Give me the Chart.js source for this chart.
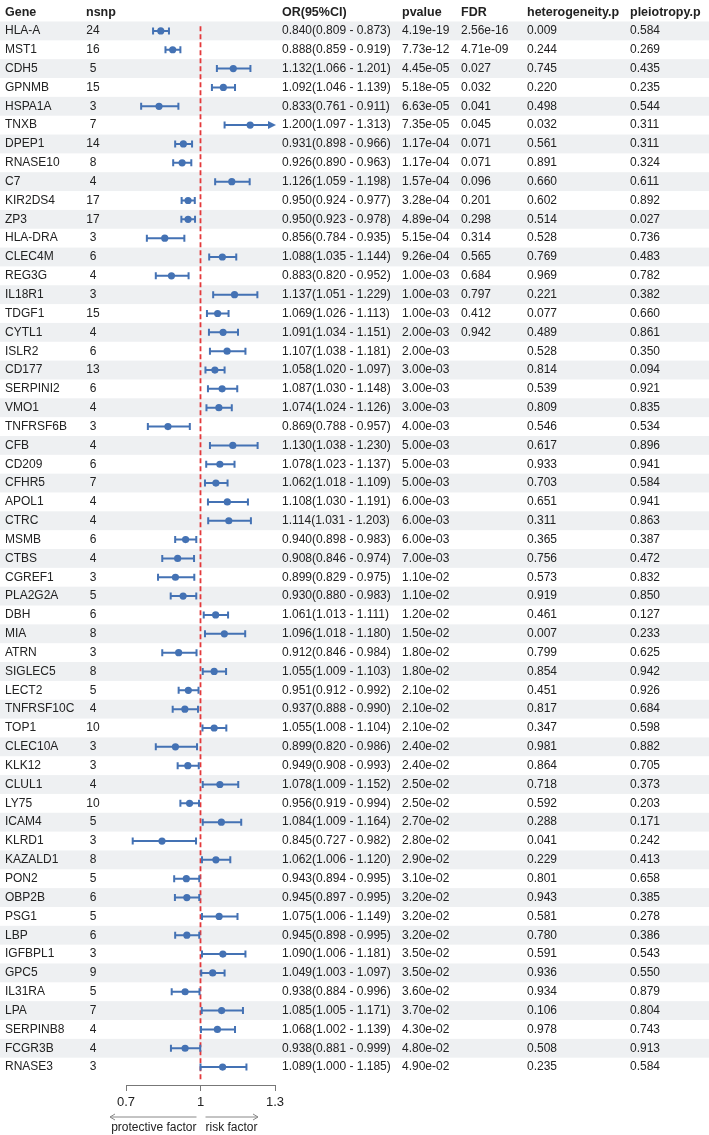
<!DOCTYPE html>
<html>
<head>
<meta charset="utf-8">
<script src="https://cdn.jsdelivr.net/npm/chart.js@4.4.1/dist/chart.umd.min.js"></script>
<style>
  html, body { margin: 0; padding: 0; background: #fff; }
  #wrap { width: 709px; height: 1135px; }
</style>
</head>
<body>
<div id="wrap"><canvas id="forest"></canvas></div>
<script>
const genes = ['HLA-A','MST1','CDH5','GPNMB','HSPA1A','TNXB','DPEP1','RNASE10','C7','KIR2DS4','ZP3','HLA-DRA','CLEC4M','REG3G','IL18R1','TDGF1','CYTL1','ISLR2','CD177','SERPINI2','VMO1','TNFRSF6B','CFB','CD209','CFHR5','APOL1','CTRC','MSMB','CTBS','CGREF1','PLA2G2A','DBH','MIA','ATRN','SIGLEC5','LECT2','TNFRSF10C','TOP1','CLEC10A','KLK12','CLUL1','LY75','ICAM4','KLRD1','KAZALD1','PON2','OBP2B','PSG1','LBP','IGFBPL1','GPC5','IL31RA','LPA','SERPINB8','FCGR3B','RNASE3'];
const nsnp = [24,16,5,15,3,7,14,8,4,17,17,3,6,4,3,15,4,6,13,6,4,3,4,6,7,4,4,6,4,3,5,6,8,3,8,5,4,10,3,3,4,10,5,3,8,5,6,5,6,3,9,5,7,4,4,3];
const orVal = [0.840,0.888,1.132,1.092,0.833,1.200,0.931,0.926,1.126,0.950,0.950,0.856,1.088,0.883,1.137,1.069,1.091,1.107,1.058,1.087,1.074,0.869,1.130,1.078,1.062,1.108,1.114,0.940,0.908,0.899,0.930,1.061,1.096,0.912,1.055,0.951,0.937,1.055,0.899,0.949,1.078,0.956,1.084,0.845,1.062,0.943,0.945,1.075,0.945,1.090,1.049,0.938,1.085,1.068,0.938,1.089];
const ciLow = [0.809,0.859,1.066,1.046,0.761,1.097,0.898,0.890,1.059,0.924,0.923,0.784,1.035,0.820,1.051,1.026,1.034,1.038,1.020,1.030,1.024,0.788,1.038,1.023,1.018,1.030,1.031,0.898,0.846,0.829,0.880,1.013,1.018,0.846,1.009,0.912,0.888,1.008,0.820,0.908,1.009,0.919,1.009,0.727,1.006,0.894,0.897,1.006,0.898,1.006,1.003,0.884,1.005,1.002,0.881,1.000];
const ciHigh = [0.873,0.919,1.201,1.139,0.911,1.313,0.966,0.963,1.198,0.977,0.978,0.935,1.144,0.952,1.229,1.113,1.151,1.181,1.097,1.148,1.126,0.957,1.230,1.137,1.109,1.191,1.203,0.983,0.974,0.975,0.983,1.111,1.180,0.984,1.103,0.992,0.990,1.104,0.986,0.993,1.152,0.994,1.164,0.982,1.120,0.995,0.995,1.149,0.995,1.181,1.097,0.996,1.171,1.139,0.999,1.185];
const pvalue = ['4.19e-19','7.73e-12','4.45e-05','5.18e-05','6.63e-05','7.35e-05','1.17e-04','1.17e-04','1.57e-04','3.28e-04','4.89e-04','5.15e-04','9.26e-04','1.00e-03','1.00e-03','1.00e-03','2.00e-03','2.00e-03','3.00e-03','3.00e-03','3.00e-03','4.00e-03','5.00e-03','5.00e-03','5.00e-03','6.00e-03','6.00e-03','6.00e-03','7.00e-03','1.10e-02','1.10e-02','1.20e-02','1.50e-02','1.80e-02','1.80e-02','2.10e-02','2.10e-02','2.10e-02','2.40e-02','2.40e-02','2.50e-02','2.50e-02','2.70e-02','2.80e-02','2.90e-02','3.10e-02','3.20e-02','3.20e-02','3.20e-02','3.50e-02','3.50e-02','3.60e-02','3.70e-02','4.30e-02','4.80e-02','4.90e-02'];
const fdr = ['2.56e-16','4.71e-09','0.027','0.032','0.041','0.045','0.071','0.071','0.096','0.201','0.298','0.314','0.565','0.684','0.797','0.412','0.942'];
const heteroP = ['0.009','0.244','0.745','0.220','0.498','0.032','0.561','0.891','0.660','0.602','0.514','0.528','0.769','0.969','0.221','0.077','0.489','0.528','0.814','0.539','0.809','0.546','0.617','0.933','0.703','0.651','0.311','0.365','0.756','0.573','0.919','0.461','0.007','0.799','0.854','0.451','0.817','0.347','0.981','0.864','0.718','0.592','0.288','0.041','0.229','0.801','0.943','0.581','0.780','0.591','0.936','0.934','0.106','0.978','0.508','0.235'];
const pleioP = ['0.584','0.269','0.435','0.235','0.544','0.311','0.311','0.324','0.611','0.892','0.027','0.736','0.483','0.782','0.382','0.660','0.861','0.350','0.094','0.921','0.835','0.534','0.896','0.941','0.584','0.941','0.863','0.387','0.472','0.832','0.850','0.127','0.233','0.625','0.942','0.926','0.684','0.598','0.882','0.705','0.373','0.203','0.171','0.242','0.413','0.658','0.385','0.278','0.386','0.543','0.550','0.879','0.804','0.743','0.913','0.584'];
const headers = ['Gene','nsnp','OR(95%CI)','pvalue','FDR','heterogeneity.p','pleiotropy.p'];
const xTicks = [0.7, 1, 1.3];

const FONT = '"Liberation Sans", Arial, sans-serif';
const BLUE = '#4472b4';
const TEXT = '#222';

// columns of the table (x in px)
const colX = { gene: 5, nsnp: 93, or: 282, p: 402, fdr: 461, het: 527, pleio: 630 };

const fmt = v => v.toFixed(3);

const tablePlugin = {
  id: 'table',
  beforeDraw(chart) {
    const { ctx, scales: { y }, width } = chart;
    ctx.save();
    ctx.fillStyle = '#fff';
    ctx.fillRect(0, 0, width, chart.height);
    ctx.fillStyle = '#eef0f2';
    genes.forEach((g, i) => {
      if (i % 2 === 0) {
        const top = y.getPixelForValue(i - 0.5);
        const bot = y.getPixelForValue(i + 0.5);
        ctx.fillRect(0, top, width, bot - top);
      }
    });
    ctx.restore();
  },
  beforeDatasetsDraw(chart) {
    const { ctx, scales: { x, y } } = chart;
    ctx.save();
    // reference line at OR = 1
    ctx.strokeStyle = '#e4383a';
    ctx.lineWidth = 1.8;
    ctx.setLineDash([5, 3]);
    ctx.beginPath();
    ctx.moveTo(x.getPixelForValue(1), y.getPixelForValue(-0.25));
    ctx.lineTo(x.getPixelForValue(1), y.getPixelForValue(genes.length - 0.3));
    ctx.stroke();
    ctx.setLineDash([]);

    // confidence intervals
    ctx.strokeStyle = BLUE;
    ctx.fillStyle = BLUE;
    ctx.lineWidth = 2;
    genes.forEach((g, i) => {
      const yy = y.getPixelForValue(i);
      const clipped = ciHigh[i] > x.max;
      const x0 = x.getPixelForValue(ciLow[i]);
      const x1 = x.getPixelForValue(Math.min(ciHigh[i], x.max));
      ctx.beginPath();
      ctx.moveTo(x0, yy);
      ctx.lineTo(clipped ? x1 - 5 : x1, yy);
      ctx.moveTo(x0, yy - 3.5);
      ctx.lineTo(x0, yy + 3.5);
      if (!clipped) {
        ctx.moveTo(x1, yy - 3.5);
        ctx.lineTo(x1, yy + 3.5);
      }
      ctx.stroke();
      if (clipped) {
        ctx.beginPath();
        ctx.moveTo(x1 + 1, yy);
        ctx.lineTo(x1 - 7, yy - 4);
        ctx.lineTo(x1 - 7, yy + 4);
        ctx.closePath();
        ctx.fill();
      }
    });
    ctx.restore();
  },
  afterDraw(chart) {
    const { ctx, scales: { x, y } } = chart;
    ctx.save();
    ctx.textBaseline = 'middle';
    ctx.fillStyle = TEXT;

    // header
    ctx.font = 'bold 12.5px ' + FONT;
    const hy = y.getPixelForValue(-1);
    const hx = [colX.gene, 86, colX.or, colX.p, colX.fdr, colX.het, colX.pleio];
    headers.forEach((h, k) => {
      ctx.textAlign = 'left';
      ctx.fillText(h, hx[k], hy);
    });

    // rows
    ctx.font = '12px ' + FONT;
    genes.forEach((g, i) => {
      const yy = y.getPixelForValue(i);
      ctx.textAlign = 'left';
      ctx.fillText(g, colX.gene, yy);
      ctx.textAlign = 'center';
      ctx.fillText(String(nsnp[i]), colX.nsnp, yy);
      ctx.textAlign = 'left';
      ctx.fillText(`${fmt(orVal[i])}(${fmt(ciLow[i])} - ${fmt(ciHigh[i])})`, colX.or, yy);
      ctx.fillText(pvalue[i], colX.p, yy);
      if (fdr[i]) ctx.fillText(fdr[i], colX.fdr, yy);
      ctx.fillText(heteroP[i], colX.het, yy);
      ctx.fillText(pleioP[i], colX.pleio, yy);
    });

    // direction arrows under the axis
    const x1 = x.getPixelForValue(1);
    const ay = 1117;
    ctx.strokeStyle = '#888';
    ctx.lineWidth = 1;
    const arrow = (from, to) => {
      const dir = Math.sign(to - from);
      ctx.beginPath();
      ctx.moveTo(from, ay);
      ctx.lineTo(to, ay);
      ctx.moveTo(to - dir * 5, ay - 3);
      ctx.lineTo(to, ay);
      ctx.lineTo(to - dir * 5, ay + 3);
      ctx.stroke();
    };
    arrow(x1 - 4, 110);
    arrow(x1 + 5, 258);
    ctx.fillStyle = TEXT;
    ctx.font = '12px ' + FONT;
    ctx.textAlign = 'right';
    ctx.fillText('protective factor', x1 - 4, 1128);
    ctx.textAlign = 'left';
    ctx.fillText('risk factor', x1 + 5, 1128);
    ctx.restore();
  }
};

new Chart(document.getElementById('forest'), {
  type: 'scatter',
  data: {
    datasets: [{
      data: orVal.map((v, i) => ({ x: v, y: i })),
      backgroundColor: BLUE,
      borderWidth: 0,
      pointRadius: 3.6,
      pointHoverRadius: 3.6
    }]
  },
  options: {
    responsive: true,
    maintainAspectRatio: false,
    animation: false,
    events: [],
    layout: { padding: { left: 126, right: 709 - 275, top: 0, bottom: 0 } },
    plugins: { legend: { display: false }, tooltip: { enabled: false } },
    scales: {
      x: {
        type: 'linear',
        min: 0.7,
        max: 1.3,
        afterBuildTicks: s => { s.ticks = xTicks.map(v => ({ value: v })); },
        afterFit: s => { s.height = 50; s.paddingLeft = 0; s.paddingRight = 0; },
        grid: { drawOnChartArea: false, drawTicks: true, tickLength: 6, color: '#777' },
        border: { display: true, color: '#777', width: 1 },
        ticks: {
          padding: 4,
          color: TEXT,
          font: { family: FONT, size: 13 },
          callback: v => String(v)
        }
      },
      y: {
        type: 'linear',
        display: false,
        reverse: true,
        min: -1.45,
        max: 55.95
      }
    }
  },
  plugins: [tablePlugin]
});
</script>
</body>
</html>
